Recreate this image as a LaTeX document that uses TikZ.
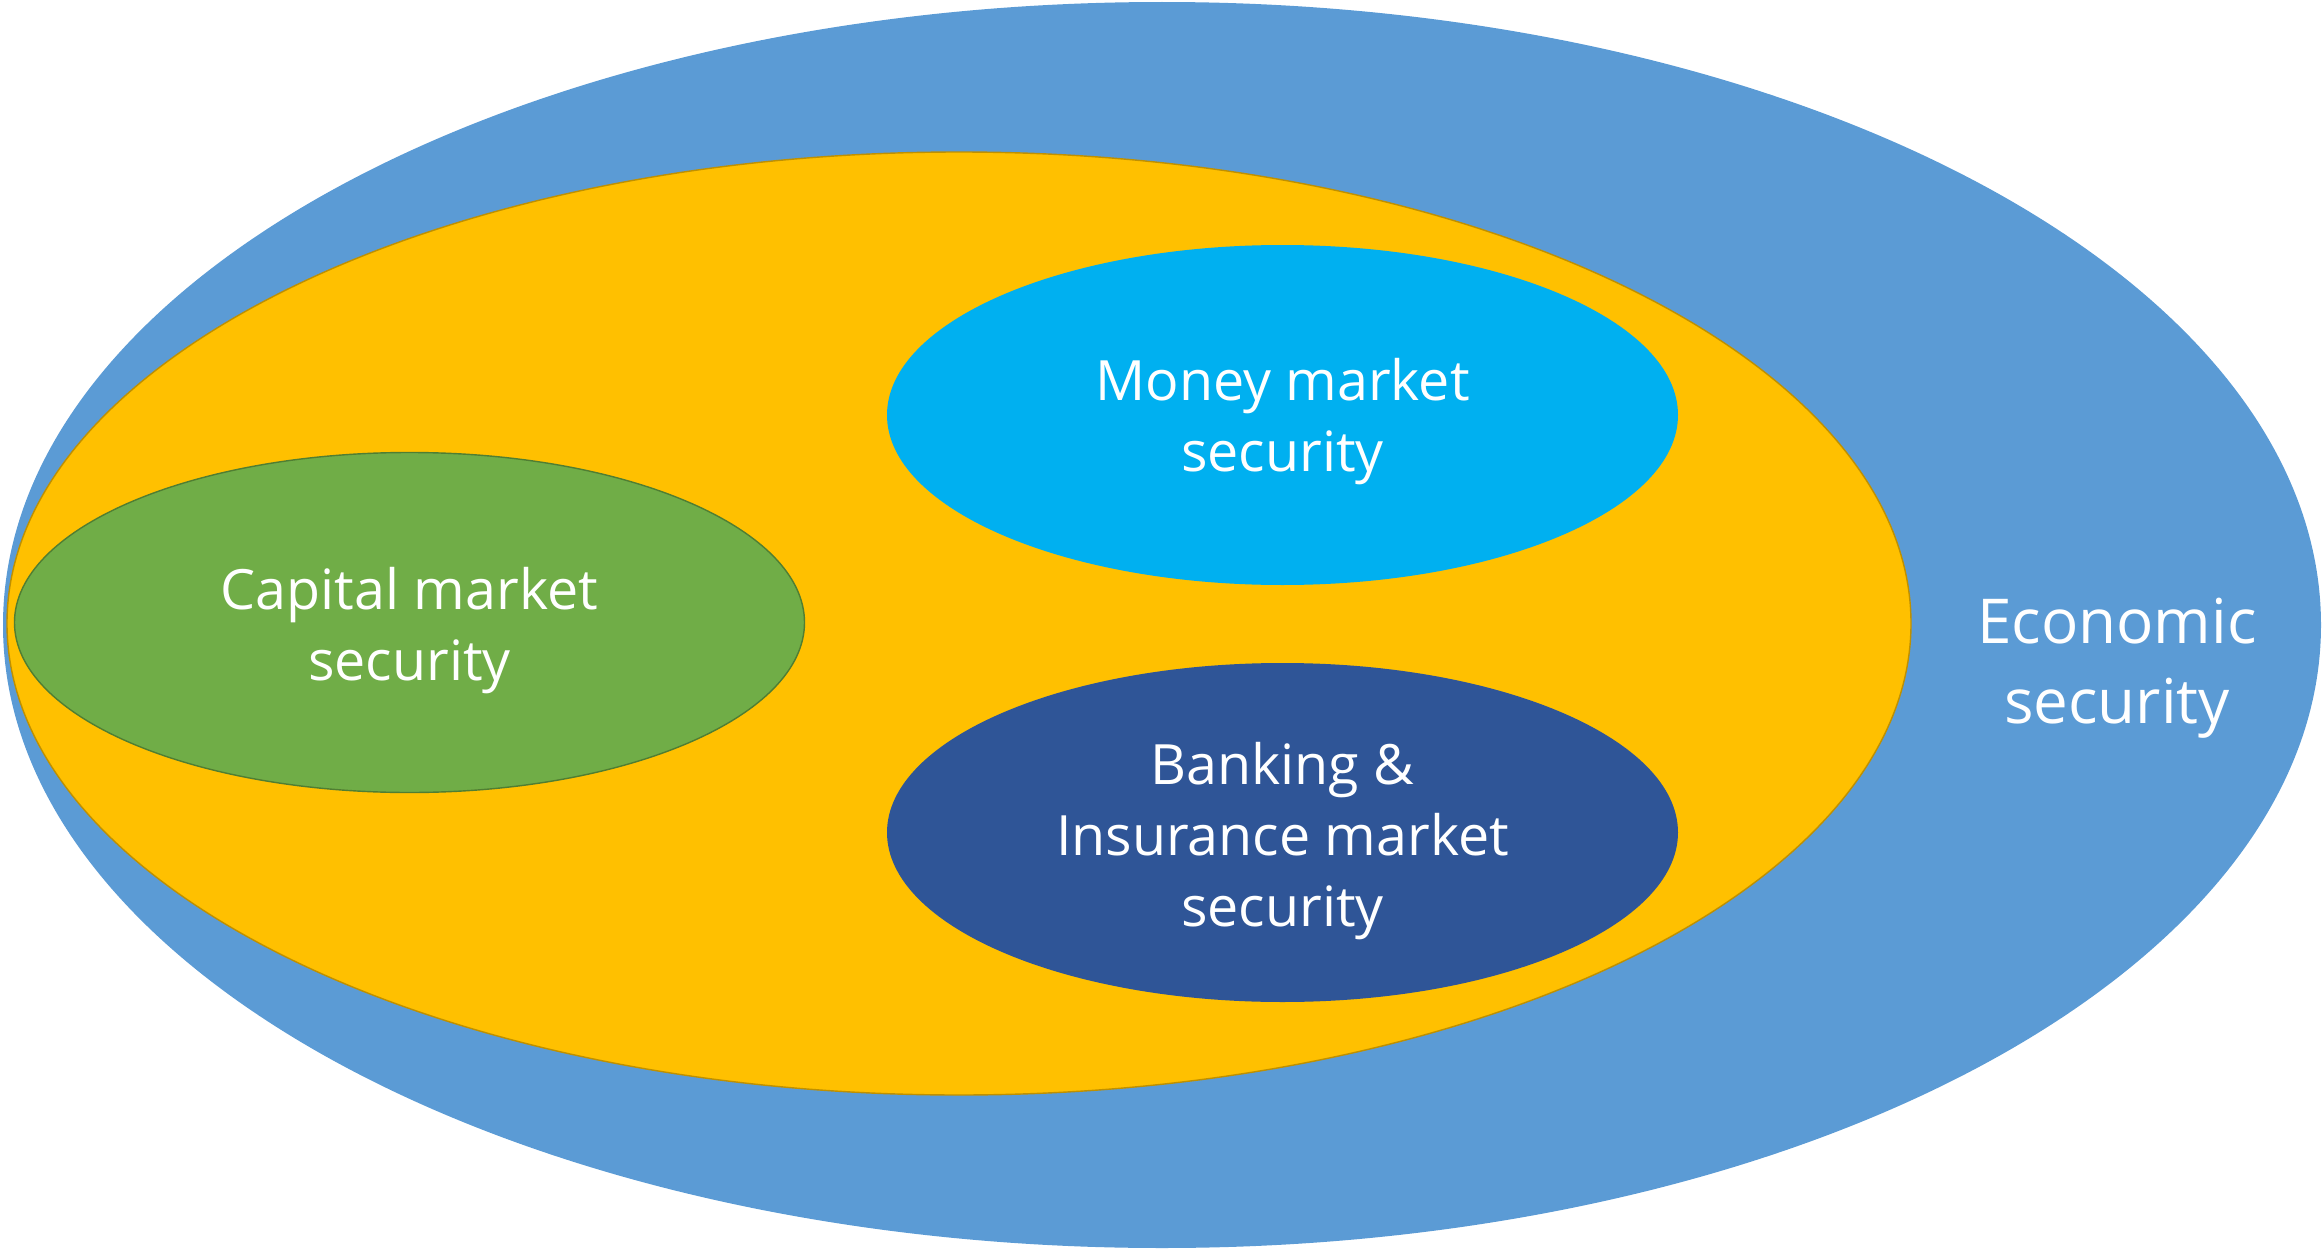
\documentclass[tikz,border=0pt]{standalone}
\usepackage{fontspec}
\setmainfont{Open Sans}
\usepackage{tikz}

\definecolor{econblue}{HTML}{5B9BD5}
\definecolor{finyellow}{HTML}{FFC000}
\definecolor{finborder}{HTML}{BF9000}
\definecolor{capgreen}{HTML}{70AD47}
\definecolor{capborder}{HTML}{507E32}
\definecolor{moneyblue}{HTML}{00B0F0}
\definecolor{bankblue}{HTML}{2F5597}

\begin{document}
\begin{tikzpicture}[x=0.01cm,y=0.01cm,
    every node/.style={text=white,align=center,font=\fontsize{15.8pt}{20.2pt}\selectfont}]
                \useasboundingbox (0,0) rectangle (2323,1250);

                \fill[econblue] (1162,625) ellipse [x radius=1159, y radius=623];
                \filldraw[fill=finyellow,draw=finborder,line width=0.4pt] (959,626.5) ellipse [x radius=952, y radius=471.5];

                \filldraw[fill=capgreen,draw=capborder,line width=0.4pt] (409.5,627.5) ellipse [x radius=395, y radius=170];
                \fill[moneyblue] (1282.5,835) ellipse [x radius=395.5, y radius=170];
                \fill[bankblue] (1282.5,417.5) ellipse [x radius=395.5, y radius=169.5];

                \node (capital) at (409.5,619) {Capital market\\security};
                \node (money) at (1282.5,828) {Money market\\security};
                \node (bank) at (1282.5,409) {Banking \&\\Insurance market\\security};
                \node[font=\fontsize{17.6pt}{22.6pt}\selectfont] (econ) at (2117,582) {Economic\\security};
            \end{tikzpicture}
\end{document}
